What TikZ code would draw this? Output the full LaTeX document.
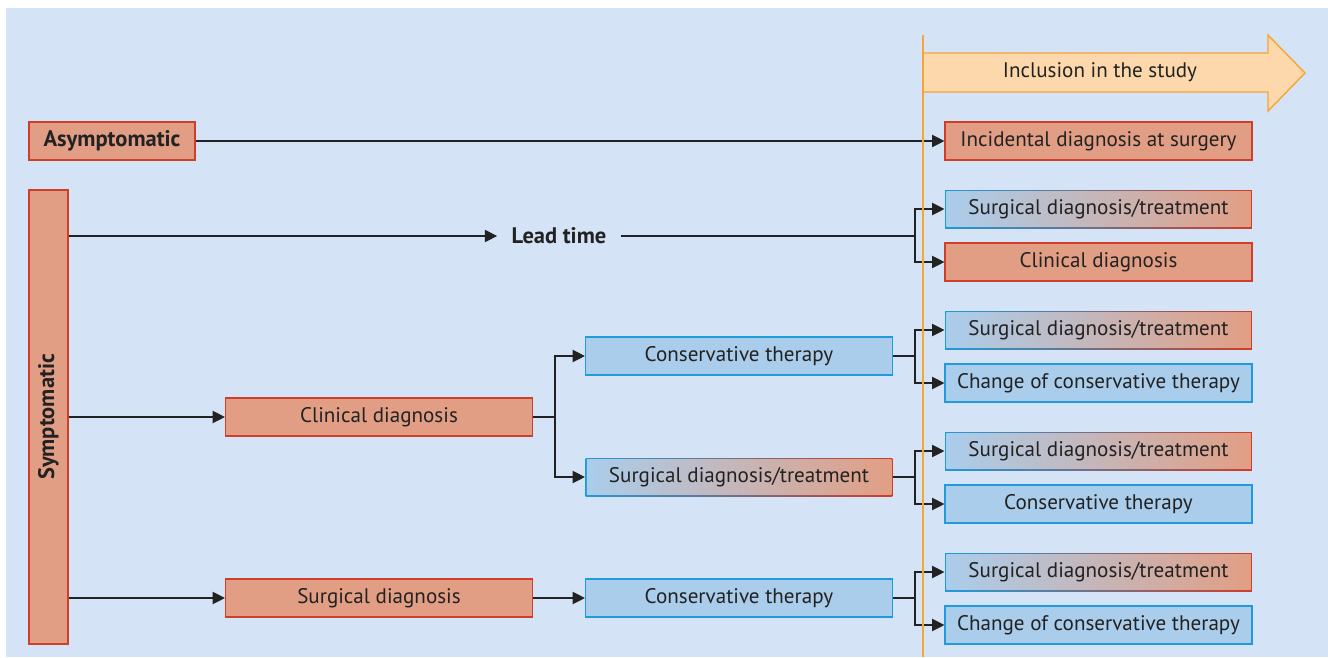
\documentclass[tikz,border=0pt]{standalone}
\usepackage{fontspec}
\setmainfont{PT Sans}
\usepackage{tikz}
\usetikzlibrary{
	arrows.meta,
	calc
}
\definecolor{bgblue}{HTML}{D4E3F5}
\definecolor{redfill}{HTML}{E29E84}
\definecolor{redline}{HTML}{CF3E28}
\definecolor{bluefill}{HTML}{AACDEC}
\definecolor{blueline}{HTML}{1E9BD8}
\definecolor{orangeline}{HTML}{F7A535}
\definecolor{orangefill}{HTML}{FDD8AC}
\definecolor{textgray}{HTML}{222222}
\tikzset{every path/.append style={line width=0.6pt}}
\tikzset{
	box/.style={rectangle,minimum width=6.14cm,minimum height=0.76cm,inner sep=0pt,
		text=textgray,font=\fontsize{12}{14}\selectfont,line width=0.7pt},
	redbox/.style={box,draw=redline,fill=redfill},
	bluebox/.style={box,draw=blueline,fill=bluefill},
	gradbox/.style={box,left color=blueline,right color=redline,
		path picture={\shade[left color=bluefill,right color=redfill]
			([shift={(0.7pt,0.7pt)}]path picture bounding box.south west) rectangle
			([shift={(-0.7pt,-0.7pt)}]path picture bounding box.north east);}},
	boldtext/.style={font=\fontsize{12.8}{14}\selectfont\bfseries},
	link/.style={textgray,-{Triangle[length=7pt,width=7pt]}},
	plain/.style={textgray}
}
\newcommand{\tikzBox}[4][redbox]{\node (#3) at #2 [#1]{#4};}

\begin{document}
\begin{tikzpicture}[x=0.02cm,y=-0.02cm]
	\useasboundingbox (0,0) rectangle (1328,657);
	\fill[bgblue] (6,8) rectangle (1328,657);
	
	% Inclusion arrow
	\draw[orangeline,fill=orangefill,line width=0.8pt]
		(923,53) -- (1268,53) -- (1268,35) -- (1305,73) -- (1268,111) -- (1268,92) -- (923,92);
	\node (incl) at (1100,72) [text=textgray,font=\fontsize{12}{14}\selectfont]{Inclusion in the study};
	
	% Starting groups
	\tikzBox[redbox,minimum width=3.32cm,boldtext]{(112,141)}{asym}{Asymptomatic}
	\tikzBox[redbox,minimum width=0.78cm,minimum height=9.08cm,boldtext]{(48.5,417)}{symp}{\rotatebox{90}{Symptomatic}}
	
	% Middle columns
	\tikzBox{(379,417)}{cd}{Clinical diagnosis}
	\tikzBox{(379,598)}{sd}{Surgical diagnosis}
	\tikzBox[bluebox]{(739,356)}{ct1}{Conservative therapy}
	\tikzBox[gradbox]{(739,477)}{sdt2}{Surgical diagnosis/treatment}
	\tikzBox[bluebox]{(739,598)}{ct2}{Conservative therapy}
	
	% Outcomes
	\tikzBox{(1098.5,141)}{incid}{Incidental diagnosis at surgery}
	\tikzBox[gradbox]{(1098.5,209)}{sdt1}{Surgical diagnosis/treatment}
	\tikzBox{(1098.5,262)}{cd2}{Clinical diagnosis}
	\tikzBox[gradbox]{(1098.5,330)}{sdt3}{Surgical diagnosis/treatment}
	\tikzBox[bluebox]{(1098.5,383)}{chg1}{Change of conservative therapy}
	\tikzBox[gradbox]{(1098.5,451)}{sdt4}{Surgical diagnosis/treatment}
	\tikzBox[bluebox]{(1098.5,504)}{ct3}{Conservative therapy}
	\tikzBox[gradbox]{(1098.5,572)}{sdt5}{Surgical diagnosis/treatment}
	\tikzBox[bluebox]{(1098.5,625)}{chg2}{Change of conservative therapy}
	
	% Branch points
	\coordinate (b1) at (915,236);
	\coordinate (b2) at (555,417);
	\coordinate (b3) at (915,356);
	\coordinate (b4) at (915,477);
	\coordinate (b5) at (915,598);
	
	% Connectors
	\draw[link] (asym.east) -- (incid.west);
	
	\node (lead) at (559,236) [inner sep=0pt,inner xsep=8pt,text=textgray,boldtext]{Lead time};
	\draw[link] (symp.east |- lead.west) -- (lead.west);
	\draw[plain] (lead.east) -- (b1);
	\draw[link] (b1) |- (sdt1.west);
	\draw[link] (b1) |- (cd2.west);
	
	\draw[link] (symp.east |- cd.west) -- (cd.west);
	\draw[plain] (cd.east) -- (b2);
	\draw[link] (b2) |- (ct1.west);
	\draw[link] (b2) |- (sdt2.west);
	
	\draw[plain] (ct1.east) -- (b3);
	\draw[link] (b3) |- (sdt3.west);
	\draw[link] (b3) |- (chg1.west);
	
	\draw[plain] (sdt2.east) -- (b4);
	\draw[link] (b4) |- (sdt4.west);
	\draw[link] (b4) |- (ct3.west);
	
	\draw[link] (symp.east |- sd.west) -- (sd.west);
	\draw[link] (sd.east) -- (ct2.west);
	\draw[plain] (ct2.east) -- (b5);
	\draw[link] (b5) |- (sdt5.west);
	\draw[link] (b5) |- (chg2.west);
	
	% Study start
	\draw[orangeline,line width=1.3pt] (923,35) -- (923,657);
\end{tikzpicture}
\end{document}
